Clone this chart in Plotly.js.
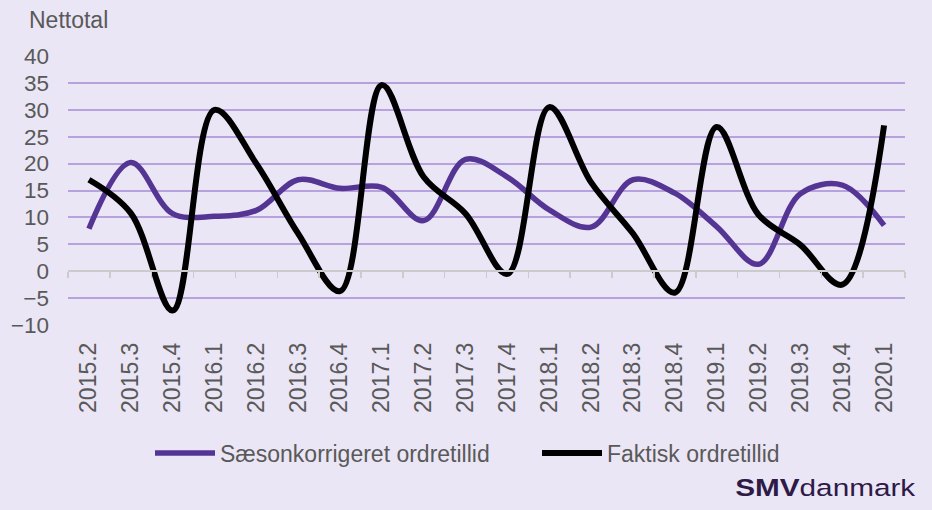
<!DOCTYPE html>
<html><head><meta charset="utf-8">
<script src="https://cdn.plot.ly/plotly-3.0.1.min.js"></script>
<style>html,body{margin:0;padding:0;background:#EAE6F5;}#c{width:932px;height:510px;}</style>
</head><body><div id="c"></div>
<script>
const categories = ["2015.2","2015.3","2015.4","2016.1","2016.2","2016.3","2016.4","2017.1","2017.2","2017.3","2017.4","2018.1","2018.2","2018.3","2018.4","2019.1","2019.2","2019.3","2019.4","2020.1"];
const saesonkorrigeret = [7.9,20.2,10.7,10.2,11.3,17,15.4,15.6,9.4,20.8,17.5,11.4,8.2,17,14.5,8.3,1.3,14.4,16,8.5];
const faktisk = [17,10.8,-7.3,30,20,7,-3.7,34.6,17.5,10.7,-0.5,30.5,16.5,7,-4,26.8,10.5,4.9,-2.5,27.1];
const seriesNames = ["Sæsonkorrigeret ordretillid","Faktisk ordretillid"];
const yTicks = [-10,-5,0,5,10,15,20,25,30,35,40];

const yRange = [-10,40];
const zeroPos = (0 - yRange[0])/(yRange[1]-yRange[0]);
const idx = categories.map((c,i)=>i);
const bounds = [];
for (let i=0;i<=categories.length;i++) bounds.push(i-0.5);

const font = "Liberation Sans, Arial, sans-serif";

const traces = [
  {x: idx, y: saesonkorrigeret, name: seriesNames[0], type:'scatter', mode:'lines', legend:'legend',
   line:{color:'#553594', width:5.5, shape:'spline', smoothing:1}},
  {x: idx, y: faktisk, name: seriesNames[1], type:'scatter', mode:'lines', legend:'legend2',
   line:{color:'#000000', width:6, shape:'spline', smoothing:1}},
  {x: idx, y: faktisk, xaxis:'x2', type:'scatter', mode:'lines', showlegend:false, hoverinfo:'skip',
   line:{color:'rgba(0,0,0,0)', width:0}}
];

const legendFont = {family:font, size:23, color:'#595959'};
const layout = {
  width:932, height:510,
  paper_bgcolor:'#EAE6F5', plot_bgcolor:'#EAE6F5',
  margin:{l:68, r:27, t:56, b:185},
  font:{family:font, color:'#595959', size:22},
  xaxis:{range:[-0.5, categories.length-0.5], tickmode:'array', tickvals: idx, ticktext: categories,
    tickangle:-90, showgrid:false, zeroline:false, showline:false, ticks:'', ticklabelstandoff:12,
    tickfont:{size:23, family:font, color:'#595959'}},
  xaxis2:{overlaying:'x', anchor:'free', position: zeroPos, range:[-0.5, categories.length-0.5],
    tickmode:'array', tickvals: bounds, showticklabels:false, ticks:'outside', ticklen:6, tickwidth:1.5,
    tickcolor:'#CBCBCB', showline:true, linecolor:'#CBCBCB', linewidth:2, showgrid:false, zeroline:false},
  yaxis:{range:yRange, tickmode:'array', tickvals:yTicks, showgrid:true, gridcolor:'#B8A2DD', gridwidth:2,
    zeroline:false, showline:false, ticks:'', ticklabelstandoff:18,
    tickfont:{size:22.5, family:font, color:'#595959'}},
  legend:{orientation:'h', x:(150-68)/837, xanchor:'left', y:-0.476, yanchor:'middle',
    font:legendFont, itemwidth:60, bgcolor:'rgba(0,0,0,0)'},
  legend2:{orientation:'h', x:(537-68)/837, xanchor:'left', y:-0.476, yanchor:'middle',
    font:legendFont, itemwidth:60, bgcolor:'rgba(0,0,0,0)'},
  annotations:[
    {text:'Nettotal', xref:'paper', yref:'paper', x:(27-68)/837, y:1.0, yshift:36, xanchor:'left', yanchor:'middle',
     showarrow:false, font:{size:23, family:font, color:'#595959'}},
    {text:'<b>SMV</b>danmark', xref:'paper', yref:'paper', x:(825-68)/837, y:(325-487)/269, xanchor:'center', yanchor:'middle',
     showarrow:false, font:{size:24.5, family:font, color:'#2E1A47'}}
  ],
  showlegend:true
};
Plotly.newPlot('c', traces, layout, {displayModeBar:false, staticPlot:true}).then(function(gd){
  const anns = gd.querySelectorAll('.annotation-text');
  if (anns.length > 1) {
    const t = anns[1];
    t.setAttribute('textLength', '180');
    t.setAttribute('lengthAdjust', 'spacingAndGlyphs');
  }
});
</script>
</body></html>
